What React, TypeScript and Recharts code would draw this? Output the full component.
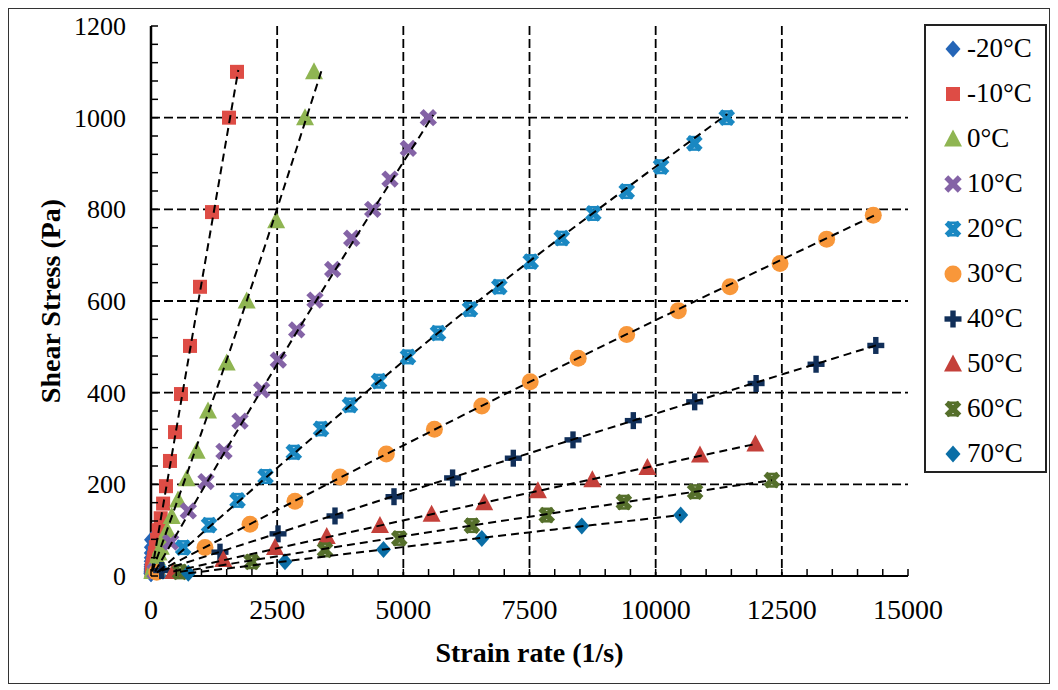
import React from "react";
import { ScatterChart, Scatter, XAxis, YAxis, CartesianGrid } from "recharts";

const FONT = "'Times New Roman', 'Liberation Serif', 'DejaVu Serif', serif";

// strain rate (1/s) / shear stress (Pa)
const m20Strain = [0, 0, 1, 1, 1, 2, 2, 3, 4, 5, 6, 8, 10];
const m20Stress = [5, 6, 8, 10, 13, 16, 20, 25, 32, 40, 50, 63, 79];

const m10Strain = [15, 20, 25, 31, 38, 49, 61, 77, 96, 120, 152, 192, 240, 297, 376, 476, 594, 773, 971, 1209, 1546, 1704];
const m10Stress = [10, 13, 16, 20, 25, 32, 40, 50, 63, 79, 100, 126, 158, 196, 251, 314, 397, 502, 631, 794, 1000, 1100];

const p0Strain = [25, 32, 42, 55, 70, 90, 118, 150, 195, 250, 320, 410, 535, 707, 905, 1130, 1500, 1896, 2480, 3052, 3230];
const p0Stress = [10, 13, 16, 20, 25, 32, 40, 50, 63, 80, 100, 130, 166, 212, 272, 360, 465, 600, 775, 1000, 1100];

const p10Strain = [80, 390, 739, 1090, 1446, 1764, 2193, 2523, 2887, 3250, 3600, 3977, 4393, 4736, 5099, 5495];
const p10Stress = [10, 74, 142, 206, 272, 338, 406, 471, 537, 602, 669, 737, 800, 866, 933, 1000];

const p20Strain = [150, 637, 1150, 1715, 2270, 2830, 3369, 3943, 4518, 5092, 5687, 6321, 6902, 7524, 8138, 8765, 9426, 10106, 10766, 11408];
const p20Stress = [10, 62, 111, 165, 217, 270, 321, 373, 425, 478, 530, 582, 631, 686, 737, 791, 839, 893, 944, 1000];

const p30Strain = [113, 1070, 1962, 2853, 3745, 4663, 5616, 6555, 7514, 8465, 9426, 10449, 11473, 12464, 13388, 14312];
const p30Stress = [8, 62, 113, 163, 216, 266, 320, 371, 424, 475, 527, 579, 631, 682, 735, 787];

const p40Strain = [212, 1367, 2517, 3646, 4815, 5976, 7179, 8362, 9557, 10773, 11990, 13178, 14362];
const p40Stress = [12, 52, 92, 131, 173, 214, 257, 297, 339, 380, 420, 462, 503];

const p50Strain = [442, 1433, 2457, 3482, 4537, 5560, 6602, 7667, 8745, 9836, 10878, 11976];
const p50Stress = [10, 36, 62, 86, 110, 135, 160, 186, 210, 237, 264, 288];

const p60Strain = [575, 1995, 3448, 4920, 6359, 7841, 9370, 10781, 12302];
const p60Stress = [9, 31, 57, 82, 110, 133, 161, 184, 209];

const p70Strain = [739, 2655, 4607, 6555, 8536, 10496];
const p70Stress = [6, 31, 58, 82, 109, 133];

// dashed fit lines (start / middle / end)
const fitM10 = { strain: [15, 1730], stress: [10, 1104] };
const fitP0 = { strain: [25, 1896, 3383], stress: [10, 600, 1104] };
const fitP10 = { strain: [80, 2193, 5594], stress: [10, 406, 1006] };
const fitP20 = { strain: [150, 5687, 11420], stress: [10, 530, 1008] };
const fitP30 = { strain: [113, 7514, 14400], stress: [8, 424, 790] };
const fitP40 = { strain: [212, 7179, 14450], stress: [12, 257, 506] };
const fitP50 = { strain: [442, 6602, 11976], stress: [10, 160, 288] };
const fitP60 = { strain: [575, 6359, 12302], stress: [9, 110, 209] };
const fitP70 = { strain: [739, 4607, 10496], stress: [6, 58, 133] };

const xTicks = [0, 500, 1000, 1500, 2000, 2500, 3000, 3500, 4000, 4500, 5000, 5500, 6000, 6500, 7000, 7500, 8000, 8500, 9000, 9500, 10000, 10500, 11000, 11500, 12000, 12500, 13000, 13500, 14000, 14500, 15000];
const yTicks = [0, 40, 80, 120, 160, 200, 240, 280, 320, 360, 400, 440, 480, 520, 560, 600, 640, 680, 720, 760, 800, 840, 880, 920, 960, 1000, 1040, 1080, 1120, 1160, 1200];
const xGrid = [2500, 5000, 7500, 10000, 12500];
const yGrid = [200, 400, 600, 800, 1000];

type Kind = "diamond" | "square" | "triangle" | "x" | "xcap" | "circle" | "plus";

const series: { name: string; kind: Kind; color: string; strain: number[]; stress: number[] }[] = [
  { name: "-20°C", kind: "diamond", color: "#2465B7", strain: m20Strain, stress: m20Stress },
  { name: "-10°C", kind: "square", color: "#DE4C45", strain: m10Strain, stress: m10Stress },
  { name: "0°C", kind: "triangle", color: "#8FB552", strain: p0Strain, stress: p0Stress },
  { name: "10°C", kind: "x", color: "#8463A6", strain: p10Strain, stress: p10Stress },
  { name: "20°C", kind: "xcap", color: "#1A88C2", strain: p20Strain, stress: p20Stress },
  { name: "30°C", kind: "circle", color: "#F8973A", strain: p30Strain, stress: p30Stress },
  { name: "40°C", kind: "plus", color: "#112F59", strain: p40Strain, stress: p40Stress },
  { name: "50°C", kind: "triangle", color: "#C4403A", strain: p50Strain, stress: p50Stress },
  { name: "60°C", kind: "xcap", color: "#556F2B", strain: p60Strain, stress: p60Stress },
  { name: "70°C", kind: "diamond", color: "#0A6EA6", strain: p70Strain, stress: p70Stress },
];

const fits = [fitM10, fitP0, fitP10, fitP20, fitP30, fitP40, fitP50, fitP60, fitP70];

const toPoints = (strain: number[], stress: number[]) => strain.map((x, i) => ({ x, y: stress[i] }));

function Marker({ kind, cx, cy, color }: { kind: Kind; cx: number; cy: number; color: string }) {
  switch (kind) {
    case "diamond":
      return <path d={`M${cx},${cy - 8.5} L${cx + 7.5},${cy} L${cx},${cy + 8.5} L${cx - 7.5},${cy} Z`} fill={color} />;
    case "square":
      return <rect x={cx - 7} y={cy - 7} width={14} height={14} fill={color} />;
    case "triangle":
      return <path d={`M${cx},${cy - 9.5} L${cx + 9},${cy + 7.5} L${cx - 9},${cy + 7.5} Z`} fill={color} />;
    case "circle":
      return <circle cx={cx} cy={cy} r={8.5} fill={color} />;
    case "plus":
      return (
        <g fill={color}>
          <rect x={cx - 8.5} y={cy - 2.7} width={17} height={5.4} />
          <rect x={cx - 2.7} y={cy - 8.5} width={5.4} height={17} />
        </g>
      );
    case "x":
      return (
        <g fill={color} transform={`translate(${cx},${cy}) rotate(45)`}>
          <rect x={-9.5} y={-2.8} width={19} height={5.6} />
          <rect x={-2.8} y={-9.5} width={5.6} height={19} />
        </g>
      );
    case "xcap":
      return (
        <g fill={color}>
          <g transform={`translate(${cx},${cy}) rotate(45)`}>
            <rect x={-9} y={-2.8} width={18} height={5.6} />
            <rect x={-2.8} y={-9} width={5.6} height={18} />
          </g>
          <rect x={cx - 6} y={cy - 7.5} width={12} height={2.6} />
          <rect x={cx - 6} y={cy + 4.9} width={12} height={2.6} />
        </g>
      );
  }
  return null;
}

const X_MARGIN = 23;
const Y_MARGIN = 25;

function XTick(props: any) {
  const { x, y, payload } = props;
  const v = payload.value as number;
  const axisY = y - X_MARGIN;
  return (
    <g>
      <line x1={x} x2={x} y1={axisY} y2={axisY - 7} stroke="#000" strokeWidth={1.5} />
      {v % 2500 === 0 && (
        <text x={x} y={y} dy="0.71em" textAnchor="middle" style={{ fontFamily: FONT, fontSize: 28 }} fill="#000">
          {v}
        </text>
      )}
    </g>
  );
}

function YTick(props: any) {
  const { x, y, payload } = props;
  const v = payload.value as number;
  const axisX = x + Y_MARGIN;
  return (
    <g>
      <line x1={axisX} x2={axisX + 7} y1={y} y2={y} stroke="#000" strokeWidth={1.5} />
      {v % 200 === 0 && (
        <text x={x} y={y} dy="0.35em" textAnchor="end" style={{ fontFamily: FONT, fontSize: 26 }} fill="#000">
          {v}
        </text>
      )}
    </g>
  );
}

export default function App() {
  return (
    <div
      style={{
        position: "relative",
        width: 1042,
        height: 676,
        border: "1px solid #333",
        boxSizing: "border-box",
        background: "#fff",
        fontFamily: FONT,
      }}
    >
      <div style={{ position: "absolute", left: 0, top: 0 }}>
        <ScatterChart width={960} height={667} margin={{ top: 17, right: 61, bottom: 0, left: 0 }}>
          <CartesianGrid
            stroke="#000"
            strokeWidth={1.8}
            strokeDasharray="9 4"
            horizontalValues={yGrid}
            verticalValues={xGrid}
          />
          <XAxis
            type="number"
            dataKey="x"
            domain={[0, 15000]}
            ticks={xTicks}
            interval={0}
            tickSize={0}
            tickMargin={X_MARGIN}
            tickLine={false}
            tick={<XTick />}
            axisLine={{ stroke: "#000", strokeWidth: 2.2 }}
            height={100}
            label={{
              value: "Strain rate (1/s)",
              position: "insideBottom",
              offset: 14,
              style: { fontFamily: FONT, fontSize: 28, fontWeight: "bold", fill: "#000" },
            }}
          />
          <YAxis
            type="number"
            dataKey="y"
            domain={[0, 1200]}
            ticks={yTicks}
            interval={0}
            tickSize={0}
            tickMargin={Y_MARGIN}
            tickLine={false}
            tick={<YTick />}
            axisLine={{ stroke: "#000", strokeWidth: 2.5 }}
            width={142}
            label={{
              value: "Shear Stress (Pa)",
              angle: -90,
              position: "insideLeft",
              offset: 41,
              style: { fontFamily: FONT, fontSize: 28, fontWeight: "bold", fill: "#000", textAnchor: "middle" },
            }}
          />
          <XAxis
            xAxisId="top"
            orientation="top"
            type="number"
            domain={[0, 15000]}
            tick={false}
            tickLine={false}
            height={0}
            axisLine={{ stroke: "#000", strokeWidth: 2 }}
          />
          <YAxis
            yAxisId="right"
            orientation="right"
            type="number"
            domain={[0, 1200]}
            tick={false}
            tickLine={false}
            width={0}
            axisLine={{ stroke: "#000", strokeWidth: 2 }}
          />
          {series.map((s) => (
            <Scatter
              key={s.name}
              name={s.name}
              data={toPoints(s.strain, s.stress)}
              isAnimationActive={false}
              shape={(p: any) => <Marker kind={s.kind} cx={p.cx} cy={p.cy} color={s.color} />}
            />
          ))}
          {fits.map((f, i) => (
            <Scatter
              key={"fit" + i}
              data={toPoints(f.strain, f.stress)}
              isAnimationActive={false}
              line={{ stroke: "#000", strokeWidth: 2, strokeDasharray: "8 5" }}
              lineJointType="monotoneX"
              shape={() => <g />}
            />
          ))}
        </ScatterChart>
      </div>

      <div
        style={{
          position: "absolute",
          left: 915,
          top: 15,
          width: 123,
          height: 449,
          border: "2px solid #222",
          boxSizing: "border-box",
          fontSize: 27,
          color: "#000",
          background: "#fff",
        }}
      >
        {series.map((s) => (
          <div key={s.name} style={{ display: "flex", alignItems: "center", height: 45 }}>
            <svg width={22} height={22} style={{ marginLeft: 16, marginRight: 3, flex: "none" }}>
              <Marker kind={s.kind} cx={11} cy={11} color={s.color} />
            </svg>
            <span style={{ lineHeight: 1, whiteSpace: "nowrap" }}>{s.name}</span>
          </div>
        ))}
      </div>
    </div>
  );
}
